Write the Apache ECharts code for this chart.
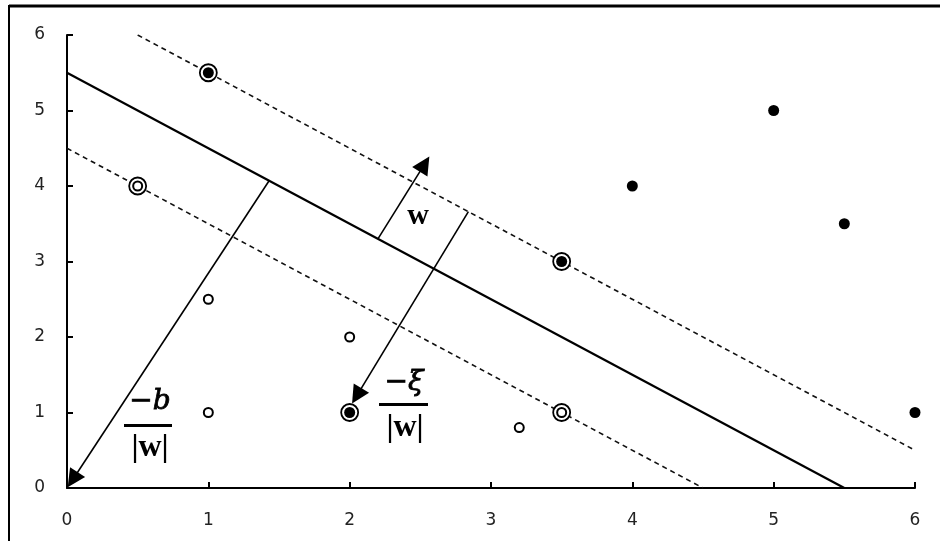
<!DOCTYPE html>
<html>
<head>
<meta charset="utf-8">
<script src="https://cdn.jsdelivr.net/npm/echarts@6/dist/echarts.min.js"></script>
<style>
  html, body { margin: 0; padding: 0; background: #fff; }
  #chart { width: 940px; height: 541px; }
</style>
</head>
<body>
<div id="chart"></div>
<script>
// Axis ticks
const xTicks = [0, 1, 2, 3, 4, 5, 6];
const yTicks = [0, 1, 2, 3, 4, 5, 6];

// Class +1 samples (filled) and class -1 samples (open)
const positivePoints = [[1, 5.5], [3.5, 3], [4, 4], [5, 5], [5.5, 3.5], [6, 1], [2, 1]];
const negativePoints = [[0.5, 4], [3.5, 1], [1, 2.5], [2, 2], [1, 1], [3.2, 0.8]];
// Support vectors (ringed)
const supportVectors = [[1, 5.5], [3.5, 3], [0.5, 4], [3.5, 1], [2, 1]];

// Separating hyperplane and the two margin lines
const hyperplane = [[0, 5.5], [5.5, 0]];
const upperMargin = [[0.5, 6], [6, 0.5]];
const lowerMargin = [[0, 4.5], [4.5, 0]];

// Vectors: normal w, slack -xi/|w|, offset -b/|w|
// (end point = centre of the arrow head)
const wVector = [[2.2, 3.3], [2.53, 4.29]];
const xiVector = [[2.84, 3.66], [2.05, 1.22]];
const bVector = [[1.43, 4.07], [0.04, 0.11]];

const chart = echarts.init(document.getElementById('chart'));

const axisCommon = {
  type: 'value',
  min: 0,
  max: 6,
  interval: 1,
  splitLine: { show: false },
  axisLine: { show: true, lineStyle: { color: '#000', width: 2 } },
  axisTick: { show: true, inside: true, length: 6, lineStyle: { color: '#000', width: 2 } },
  axisLabel: { color: '#222', fontSize: 17, fontFamily: 'DejaVu Sans' }
};

const dashStyle = { color: '#111', width: 1.6, type: [5, 4] };

function vectorSeries(coords) {
  return {
    type: 'lines',
    coordinateSystem: 'cartesian2d',
    clip: false,
    symbol: ['none', 'triangle'],
    symbolSize: 18,
    lineStyle: { color: '#000', width: 1.6, opacity: 1 },
    data: [{ coords: coords }],
    z: 4
  };
}

chart.setOption({
  animation: false,
  backgroundColor: '#fff',
  grid: { left: 67, right: 25, top: 35, bottom: 53 },
  xAxis: Object.assign({}, axisCommon, {
    axisLabel: Object.assign({}, axisCommon.axisLabel, { margin: 24 })
  }),
  yAxis: Object.assign({}, axisCommon, {
    axisLabel: Object.assign({}, axisCommon.axisLabel, { margin: 22 })
  }),
  series: [
    {
      type: 'line', data: hyperplane, symbol: 'none',
      lineStyle: { color: '#000', width: 2.2 }, z: 3
    },
    {
      type: 'line', data: upperMargin, symbol: 'none',
      lineStyle: dashStyle, z: 3
    },
    {
      type: 'line', data: lowerMargin, symbol: 'none',
      lineStyle: dashStyle, z: 3
    },
    vectorSeries(wVector),
    vectorSeries(xiVector),
    vectorSeries(bVector),
    {
      type: 'scatter', data: supportVectors, symbol: 'circle', symbolSize: 17,
      itemStyle: { color: '#fff', borderColor: '#000', borderWidth: 1.8, opacity: 1 }, z: 5
    },
    {
      type: 'scatter', data: positivePoints, symbol: 'circle', symbolSize: 11,
      itemStyle: { color: '#000', opacity: 1 }, z: 6
    },
    {
      type: 'scatter', data: negativePoints, symbol: 'circle', symbolSize: 9,
      itemStyle: { color: '#fff', borderColor: '#000', borderWidth: 2, opacity: 1 }, z: 6
    }
  ],
  graphic: [
    // outer frame (top and left edges)
    { type: 'line', shape: { x1: 9, y1: 6, x2: 940, y2: 6 }, style: { stroke: '#000', lineWidth: 3 } },
    { type: 'line', shape: { x1: 9, y1: 5, x2: 9, y2: 541 }, style: { stroke: '#000', lineWidth: 2 } },
    // w
    { type: 'text', x: 418, y: 216, style: { text: 'w', font: 'bold 30px "Liberation Serif"', fill: '#000', align: 'center', verticalAlign: 'middle' } },
    // -b / |w|
    { type: 'text', x: 150, y: 402, style: { text: '\u2212b', font: 'italic 28px "DejaVu Serif"', fill: '#000', stroke: '#000', lineWidth: 0.8, align: 'center', verticalAlign: 'middle' } },
    { type: 'rect', shape: { x: 124, y: 424, width: 48, height: 3 }, style: { fill: '#000' } },
    { type: 'text', x: 150, y: 448, style: { text: '|w|', font: 'bold 32px "Liberation Serif"', fill: '#000', align: 'center', verticalAlign: 'middle' } },
    // -xi / |w|
    { type: 'text', x: 404, y: 383, style: { text: '\u2212\u03BE', font: 'italic 28px "DejaVu Serif"', fill: '#000', stroke: '#000', lineWidth: 0.8, align: 'center', verticalAlign: 'middle' } },
    { type: 'rect', shape: { x: 379, y: 403, width: 49, height: 3 }, style: { fill: '#000' } },
    { type: 'text', x: 405, y: 428, style: { text: '|w|', font: 'bold 32px "Liberation Serif"', fill: '#000', align: 'center', verticalAlign: 'middle' } }
  ]
});
</script>
</body>
</html>
